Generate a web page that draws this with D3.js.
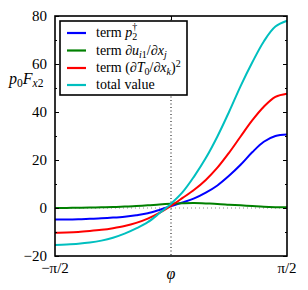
<!DOCTYPE html>
<html><head><meta charset="utf-8">
<script src="https://cdn.jsdelivr.net/npm/d3@7"></script>
<style>
html,body{margin:0;padding:0;background:#fff;}
</style></head>
<body><svg id="c" width="308" height="290"></svg>
<script>
// x positions as fractions of pi/2
const xFrac = [-1,-0.9,-0.8,-0.7,-0.6,-0.5,-0.4,-0.3,-0.2,-0.1,0,0.1,0.2,0.3,0.4,0.5,0.6,0.7,0.8,0.9,1];
const termP2   = [-4.8,-4.8,-4.7,-4.5,-4.3,-4.0,-3.6,-3.0,-2.2,-0.8,0.8,2.3,4.0,6.4,9.4,13.4,18.0,23.2,27.6,30.0,30.6];
const termDu   = [0,0.05,0.1,0.2,0.3,0.4,0.6,0.8,1.1,1.5,1.8,2.0,2.1,1.9,1.7,1.4,1.1,0.8,0.5,0.35,0.3];
const termDT   = [-10.3,-10.2,-10.0,-9.6,-9.1,-8.4,-7.5,-6.2,-4.4,-2.0,0.9,4.2,7.6,11.7,16.8,23.0,29.8,36.5,42.2,46.3,47.6];
const totalVal = [-15.4,-15.2,-14.9,-14.4,-13.6,-12.4,-10.7,-8.5,-5.9,-2.2,1.8,6.6,13.2,20.8,29.8,40.0,50.8,60.6,69.4,75.6,78.0];
const yTicks = [-20,0,20,40,60,80];
const yMinor = [-10,10,30,50,70];
const seriesColors = ["#0000ff","#008000","#ff0000","#00bfbf"];
const seriesVals = [termP2, termDu, termDT, totalVal];
const FONT = '"Liberation Serif"';

const svg = d3.select("#c");
const L=55,R=287,T=16,B=256;
const x = d3.scaleLinear().domain([-Math.PI/2, Math.PI/2]).range([L,R]);
const y = d3.scaleLinear().domain([-20,80]).range([B,T]);

// reference lines
svg.append("line").attr("x1",L).attr("x2",R).attr("y1",y(0)).attr("y2",y(0))
  .attr("stroke","#888").attr("stroke-width",1).attr("stroke-dasharray","1,3");
svg.append("line").attr("x1",x(0)).attr("x2",x(0)).attr("y1",T).attr("y2",B)
  .attr("stroke","#000").attr("stroke-width",1).attr("stroke-dasharray","1,2.5");

// curves
const line = d3.line().x(d=>x(d[0]*Math.PI/2)).y(d=>y(d[1])).curve(d3.curveCatmullRom.alpha(0.5));
seriesVals.forEach((vals,i)=>{
  svg.append("path").datum(xFrac.map((f,j)=>[f,vals[j]]))
    .attr("d",line).attr("fill","none").attr("stroke",seriesColors[i]).attr("stroke-width",2);
});

// axes ticks (inward)
const gL = svg.append("g").attr("transform",`translate(${L},0)`)
  .call(d3.axisLeft(y).tickValues(yTicks).tickSize(-4).tickPadding(8).tickFormat(d=>d<0?"\u2212"+(-d):d));
const gLm = svg.append("g").attr("transform",`translate(${L},0)`)
  .call(d3.axisLeft(y).tickValues(yMinor).tickSize(-2).tickFormat(""));
const gR = svg.append("g").attr("transform",`translate(${R},0)`)
  .call(d3.axisRight(y).tickValues(yTicks).tickSize(-4).tickFormat(""));
const gRm = svg.append("g").attr("transform",`translate(${R},0)`)
  .call(d3.axisRight(y).tickValues(yMinor).tickSize(-2).tickFormat(""));
const gT = svg.append("g").attr("transform",`translate(0,${T})`)
  .call(d3.axisTop(x).tickValues([0]).tickSize(-4).tickFormat(""));
[gL,gLm,gR,gRm,gT].forEach(g=>{
  g.select(".domain").remove();
  g.selectAll(".tick line").attr("stroke","#000").attr("stroke-width",1);
});
gL.selectAll(".tick text").attr("font-size",15).attr("fill","#000");

// x tick labels
const xl = svg.append("g").attr("font-size",15).attr("fill","#000");
xl.append("text").attr("x",x(-Math.PI/2)).attr("y",273).attr("text-anchor","middle").text("\u2212\u03C0/2");
xl.append("text").attr("x",x(Math.PI/2)).attr("y",273).attr("text-anchor","middle").text("\u03C0/2");
xl.append("text").attr("x",x(0)).attr("y",279).attr("text-anchor","middle").attr("font-style","italic").attr("font-size",16).text("\u03C6");

// frame
svg.append("rect").attr("x",L).attr("y",T).attr("width",R-L).attr("height",B-T)
  .attr("fill","none").attr("stroke","#000").attr("stroke-width",1.6);

// y label
const yl = svg.append("text").attr("x",9).attr("y",84).attr("font-size",16);
yl.append("tspan").attr("font-style","italic").text("p");
yl.append("tspan").attr("font-size",11.5).attr("dy",3).text("0");
yl.append("tspan").attr("font-style","italic").attr("dy",-3).text("F");
yl.append("tspan").attr("font-size",11.5).attr("dy",3).attr("font-style","italic").text("x");
yl.append("tspan").attr("font-size",11.5).text("2");

// legend
const lg = svg.append("g");
lg.append("rect").attr("x",60).attr("y",21).attr("width",127).attr("height",74)
  .attr("fill","#fff").attr("stroke","#000").attr("stroke-width",1.6);
const rows = [33,50.5,68,85];
rows.forEach((ry,i)=>{
  lg.append("line").attr("x1",67).attr("x2",86).attr("y1",ry).attr("y2",ry)
    .attr("stroke",seriesColors[i]).attr("stroke-width",2.2);
});
function txt(ry){return lg.append("text").attr("x",96).attr("y",ry+4).attr("font-size",14);}
let t0 = txt(rows[0]);
t0.append("tspan").text("term ");
t0.append("tspan").attr("font-style","italic").text("p");
t0.append("tspan").attr("font-size",10).attr("dy",3).text("2");
t0.append("tspan").attr("font-size",10).attr("dx",-5).attr("dy",-10).text("\u2020");
let t1 = txt(rows[1]);
t1.append("tspan").text("term \u2202");
t1.append("tspan").attr("font-style","italic").text("u");
t1.append("tspan").attr("font-size",10).attr("dy",3).attr("font-style","italic").text("i");
t1.append("tspan").attr("font-size",10).text("1");
t1.append("tspan").attr("dy",-3).text("/\u2202");
t1.append("tspan").attr("font-style","italic").text("x");
t1.append("tspan").attr("font-size",10).attr("dy",3).attr("font-style","italic").text("j");
let t2 = txt(rows[2]);
t2.append("tspan").text("term (\u2202");
t2.append("tspan").attr("font-style","italic").text("T");
t2.append("tspan").attr("font-size",10).attr("dy",3).text("0");
t2.append("tspan").attr("dy",-3).text("/\u2202");
t2.append("tspan").attr("font-style","italic").text("x");
t2.append("tspan").attr("font-size",10).attr("dy",3).attr("font-style","italic").text("k");
t2.append("tspan").attr("dy",-3).text(")");
t2.append("tspan").attr("font-size",10).attr("dy",-5).text("2");
let t3 = txt(rows[3]);
t3.text("total value");

svg.selectAll("g").attr("font-family", null);
svg.selectAll("text").style("font-family", FONT);
</script></body></html>
